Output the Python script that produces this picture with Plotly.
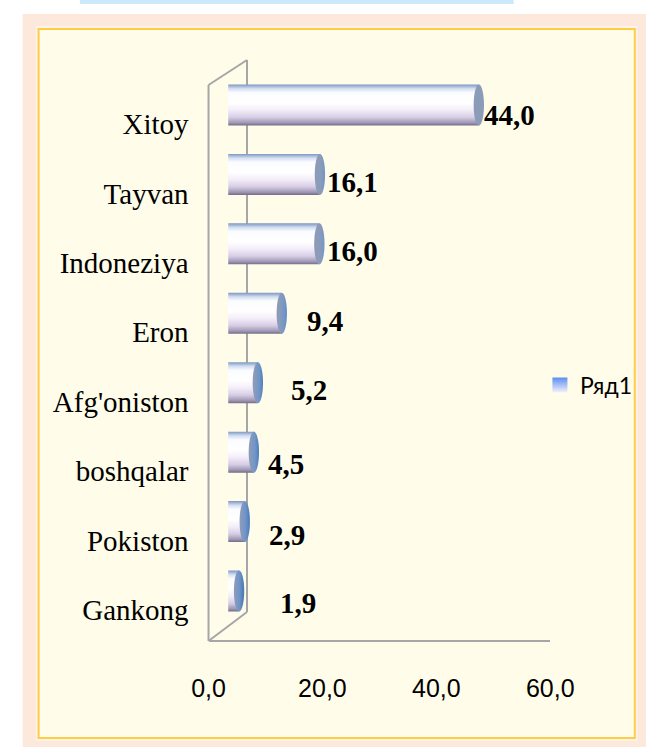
import numpy as np
import plotly.graph_objects as go

# ---------------- data ----------------
categories = ["Xitoy", "Tayvan", "Indoneziya", "Eron", "Afg'oniston",
              "boshqalar", "Pokiston", "Gankong"]
values = [44.0, 16.1, 16.0, 9.4, 5.2, 4.5, 2.9, 1.9]
value_labels = ["44,0", "16,1", "16,0", "9,4", "5,2", "4,5", "2,9", "1,9"]
tick_values = [0, 20, 40, 60]
tick_labels = ["0,0", "20,0", "40,0", "60,0"]
series_name = "Ряд1"

# ---------------- style ----------------
label_dx = [3, 5, 6, 23, 31, 12, 22, 39]       # px nudges of value labels
label_dy = [-10, -8, -7, -8, -7, -12, -13, -12]

W, H = 670, 747


def px(x):
    return x / W


def py(y):
    return 1 - y / H


n = len(categories)
pos = [n - 1 - i for i in range(n)]   # first category on top
X_MAX = 60

# bar (back plane) axis pixel geometry
bar_x0, bar_x1 = 225, 589
unit_px = (bar_x1 - bar_x0) / X_MAX
top_c, bot_c = 105, 591
row_px = (bot_c - top_c) / (n - 1)
dom_top = top_c - row_px / 2
dom_bot = bot_c + row_px / 2
# label (front plane) axis pixel geometry
lab_x0, lab_x1 = 204, 568
lab_shift = 19
axis_line_y = 641

rx = 5.5 / unit_px          # ellipse half-width of cylinder ends (data units)
hh = 20.5 / row_px          # half height of cylinder (data units)

body_scale = [[0.0, "#736c88"], [0.07, "#a199b6"], [0.2, "#d7cde5"],
              [0.38, "#f4eef9"], [0.55, "#ffffff"], [0.8, "#fbfcff"],
              [0.9, "#d3def1"], [0.96, "#9fb4d6"], [1.0, "#7d96c0"]]
cap_scale = [[0.0, "#8c9bb8"], [0.45, "#7096c9"], [1.0, "#3f70b0"]]

fig = go.Figure()

t_left = np.linspace(np.pi / 2, 3 * np.pi / 2, 31)
t_full = np.linspace(0, 2 * np.pi, 61)
for v, yc in zip(values, pos):
    bx = [v] + list(rx * np.cos(t_left)) + [v]
    by = [yc + hh] + list(yc + hh * np.sin(t_left)) + [yc - hh]
    fig.add_trace(go.Scatter(
        x=bx, y=by, fill="toself", mode="none", hoverinfo="skip",
        showlegend=False, xaxis="x", yaxis="y",
        fillgradient=dict(type="vertical", colorscale=body_scale,
                          start=yc - hh, stop=yc + hh)))
    cx = v + rx * np.cos(t_full)
    cy = yc + hh * np.sin(t_full)
    fig.add_trace(go.Scatter(
        x=cx, y=cy, fill="toself", mode="none", hoverinfo="skip",
        showlegend=False, xaxis="x", yaxis="y",
        fillgradient=dict(type="horizontal", colorscale=cap_scale,
                          start=v - rx, stop=v + rx)))

# legend entry
fig.add_trace(go.Scatter(
    x=[None], y=[None], mode="markers", name=series_name,
    marker=dict(symbol="square", size=15, color="#5a8ef0",
                gradient=dict(type="vertical", color="#f4f0fb")),
    xaxis="x", yaxis="y"))

# invisible trace carrying the front-plane category axis
fig.add_trace(go.Scatter(
    x=[0] * n, y=pos, mode="markers", marker=dict(opacity=0),
    hoverinfo="skip", showlegend=False, xaxis="x2", yaxis="y2"))

# value labels
for v, yc, t, dx, dy in zip(values, pos, value_labels, label_dx, label_dy):
    fig.add_annotation(
        x=v, y=yc, xref="x", yref="y", text=t, showarrow=False,
        xanchor="left", yanchor="middle", xshift=dx, yshift=dy,
        font=dict(family="Liberation Serif", size=29, color="#000000",
                  weight="bold"))

shapes = [
    dict(type="rect", xref="paper", yref="paper", x0=px(67), x1=px(529),
         y0=py(4), y1=py(0), fillcolor="#cce9fc", line=dict(width=0),
         layer="below"),
    dict(type="rect", xref="paper", yref="paper", x0=px(6), x1=px(670),
         y0=py(747), y1=py(14), fillcolor="#fde8dc", line=dict(width=0),
         layer="below"),
    dict(type="rect", xref="paper", yref="paper", x0=px(20), x1=px(661),
         y0=py(741), y1=py(26), fillcolor="#fdf2ea", line=dict(width=0),
         layer="below"),
    dict(type="rect", xref="paper", yref="paper", x0=px(23), x1=px(658),
         y0=py(738), y1=py(29), fillcolor="#fffde9",
         line=dict(color="#ffcd43", width=2), layer="below"),
]
frame = [((204, 85), (204, 641)), ((204, 85), (245, 60)),
         ((245, 60), (245, 612)), ((204, 641), (245, 612))]
for (xa, ya), (xb, yb) in frame:
    shapes.append(dict(type="line", xref="paper", yref="paper",
                       x0=px(xa), y0=py(ya), x1=px(xb), y1=py(yb),
                       line=dict(color="#a6a6a6", width=2), layer="below"))

fig.update_layout(
    width=W, height=H, margin=dict(l=0, r=0, t=0, b=0),
    paper_bgcolor="#ffffff", plot_bgcolor="rgba(0,0,0,0)",
    shapes=shapes,
    showlegend=True,
    legend=dict(x=px(557), y=py(385), xanchor="left", yanchor="middle",
                bgcolor="rgba(0,0,0,0)",
                font=dict(family="Lato", size=23, color="#000000")),
    xaxis=dict(domain=[px(bar_x0), px(bar_x1)], range=[0, X_MAX],
               showgrid=False, zeroline=False, showticklabels=False,
               showline=False, anchor="y", fixedrange=True),
    yaxis=dict(domain=[py(dom_bot), py(dom_top)], range=[-0.5, n - 0.5],
               showgrid=False, zeroline=False, showticklabels=False,
               showline=False, anchor="x", fixedrange=True),
    xaxis2=dict(domain=[px(lab_x0), px(lab_x1)], range=[0, X_MAX],
                anchor="free", position=py(axis_line_y),
                tickvals=tick_values, ticktext=tick_labels,
                showgrid=False, zeroline=False, showline=True,
                linecolor="#a6a6a6", linewidth=2, ticks="",
                ticklabelstandoff=25, fixedrange=True,
                tickfont=dict(family="Liberation Sans", size=25,
                              color="#000000")),
    yaxis2=dict(domain=[py(dom_bot + lab_shift), py(dom_top + lab_shift)],
                range=[-0.5, n - 0.5], anchor="x2",
                tickvals=pos, ticktext=categories, fixedrange=True,
                showgrid=False, zeroline=False, showline=False, ticks="",
                ticklabelstandoff=19,
                tickfont=dict(family="Liberation Serif", size=29,
                              color="#000000")),
)

fig.write_html(
    "out.html",
    config={"displayModeBar": False},
    post_script="document.body.style.margin='0';"
                "document.body.style.overflow='hidden';")
